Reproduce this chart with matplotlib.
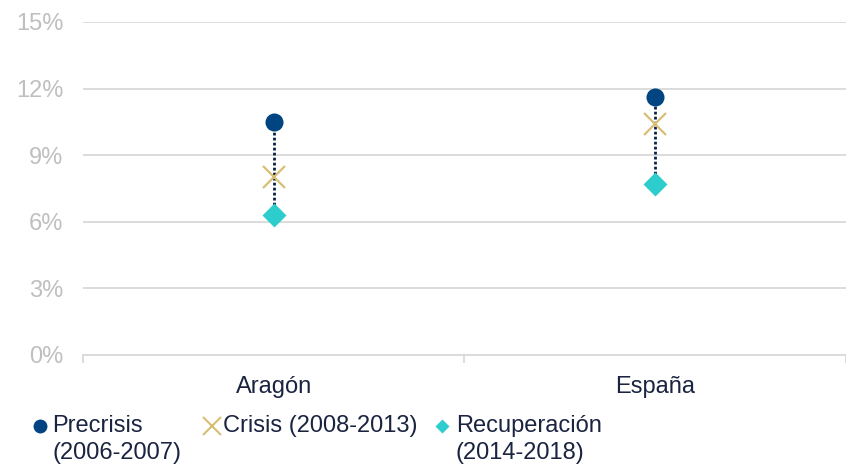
import numpy as np
import matplotlib.pyplot as plt
from matplotlib.lines import Line2D

plt.rcParams['font.family'] = ['Liberation Sans', 'DejaVu Sans']

regions = ['Aragón', 'España']
precrisis = [10.5, 11.6]
crisis = [8.0, 10.4]
recuperacion = [6.3, 7.7]
series_labels = ['Precrisis\n(2006-2007)', 'Crisis (2008-2013)', 'Recuperación\n(2014-2018)']
yticks = [0, 3, 6, 9, 12, 15]

c_pre = '#004481'
c_cri = '#D8BE75'
c_rec = '#2DCCCD'
c_line = '#072146'
c_text = '#1a2340'
c_grid = '#d9d9d9'

fig = plt.figure(figsize=(8.46, 4.65), dpi=100)
ax = fig.add_axes([0.098, 0.2366, 0.902, 0.7161])

x = np.arange(len(regions))
ax.vlines(x, recuperacion, precrisis, colors=c_line, linestyles=(0, (1, 0.8)), lw=2, zorder=2)
ax.plot(x, precrisis, 'o', color=c_pre, ms=13, mec='none', zorder=4)
ax.plot(x, crisis, 'x', color=c_cri, ms=16, mew=1.6, zorder=3)
ax.plot(x, recuperacion, 'D', color=c_rec, ms=12, mec='none', zorder=4)

ax.set_ylim(0, 15)
ax.set_xlim(-0.5, 1.5)
ax.set_yticks(yticks)
ax.set_yticklabels([f'{v}%' for v in yticks])
ax.yaxis.grid(True, color=c_grid, lw=1.3)
ax.set_axisbelow(True)
ax.tick_params(axis='y', length=0, pad=14, labelsize=17, labelcolor='#bfbfbf')

ax.set_xticks(x)
ax.set_xticklabels(regions)
ax.set_xticks([-0.5, 0.5, 1.5], minor=True)
ax.tick_params(axis='x', which='major', length=0, pad=15, labelsize=17, labelcolor=c_text)
ax.tick_params(axis='x', which='minor', length=6, width=1.3, color=c_grid)

for s in ['top', 'right', 'left']:
    ax.spines[s].set_visible(False)
ax.spines['bottom'].set_color(c_grid)
ax.spines['bottom'].set_linewidth(1.3)

# legend, drawn by hand to keep the markers level with the first text line
leg_x = [(0.047, 0.062), (0.251, 0.264), (0.523, 0.539)]
leg_styles = [dict(marker='o', color=c_pre, ms=10, mec='none'),
              dict(marker='x', color=c_cri, ms=13, mew=1.5),
              dict(marker='D', color=c_rec, ms=7, mec='none')]
y_leg = 1 - 426 / 465
y_txt = 1 - 415 / 465
for (mx, tx), st, lab in zip(leg_x, leg_styles, series_labels):
    fig.add_artist(Line2D([mx], [y_leg], transform=fig.transFigure, ls='none', **st))
    fig.text(tx, y_txt, lab, fontsize=17, color=c_text, va='top', ha='left',
             linespacing=1.3)

fig.savefig('out.png', dpi=100)
